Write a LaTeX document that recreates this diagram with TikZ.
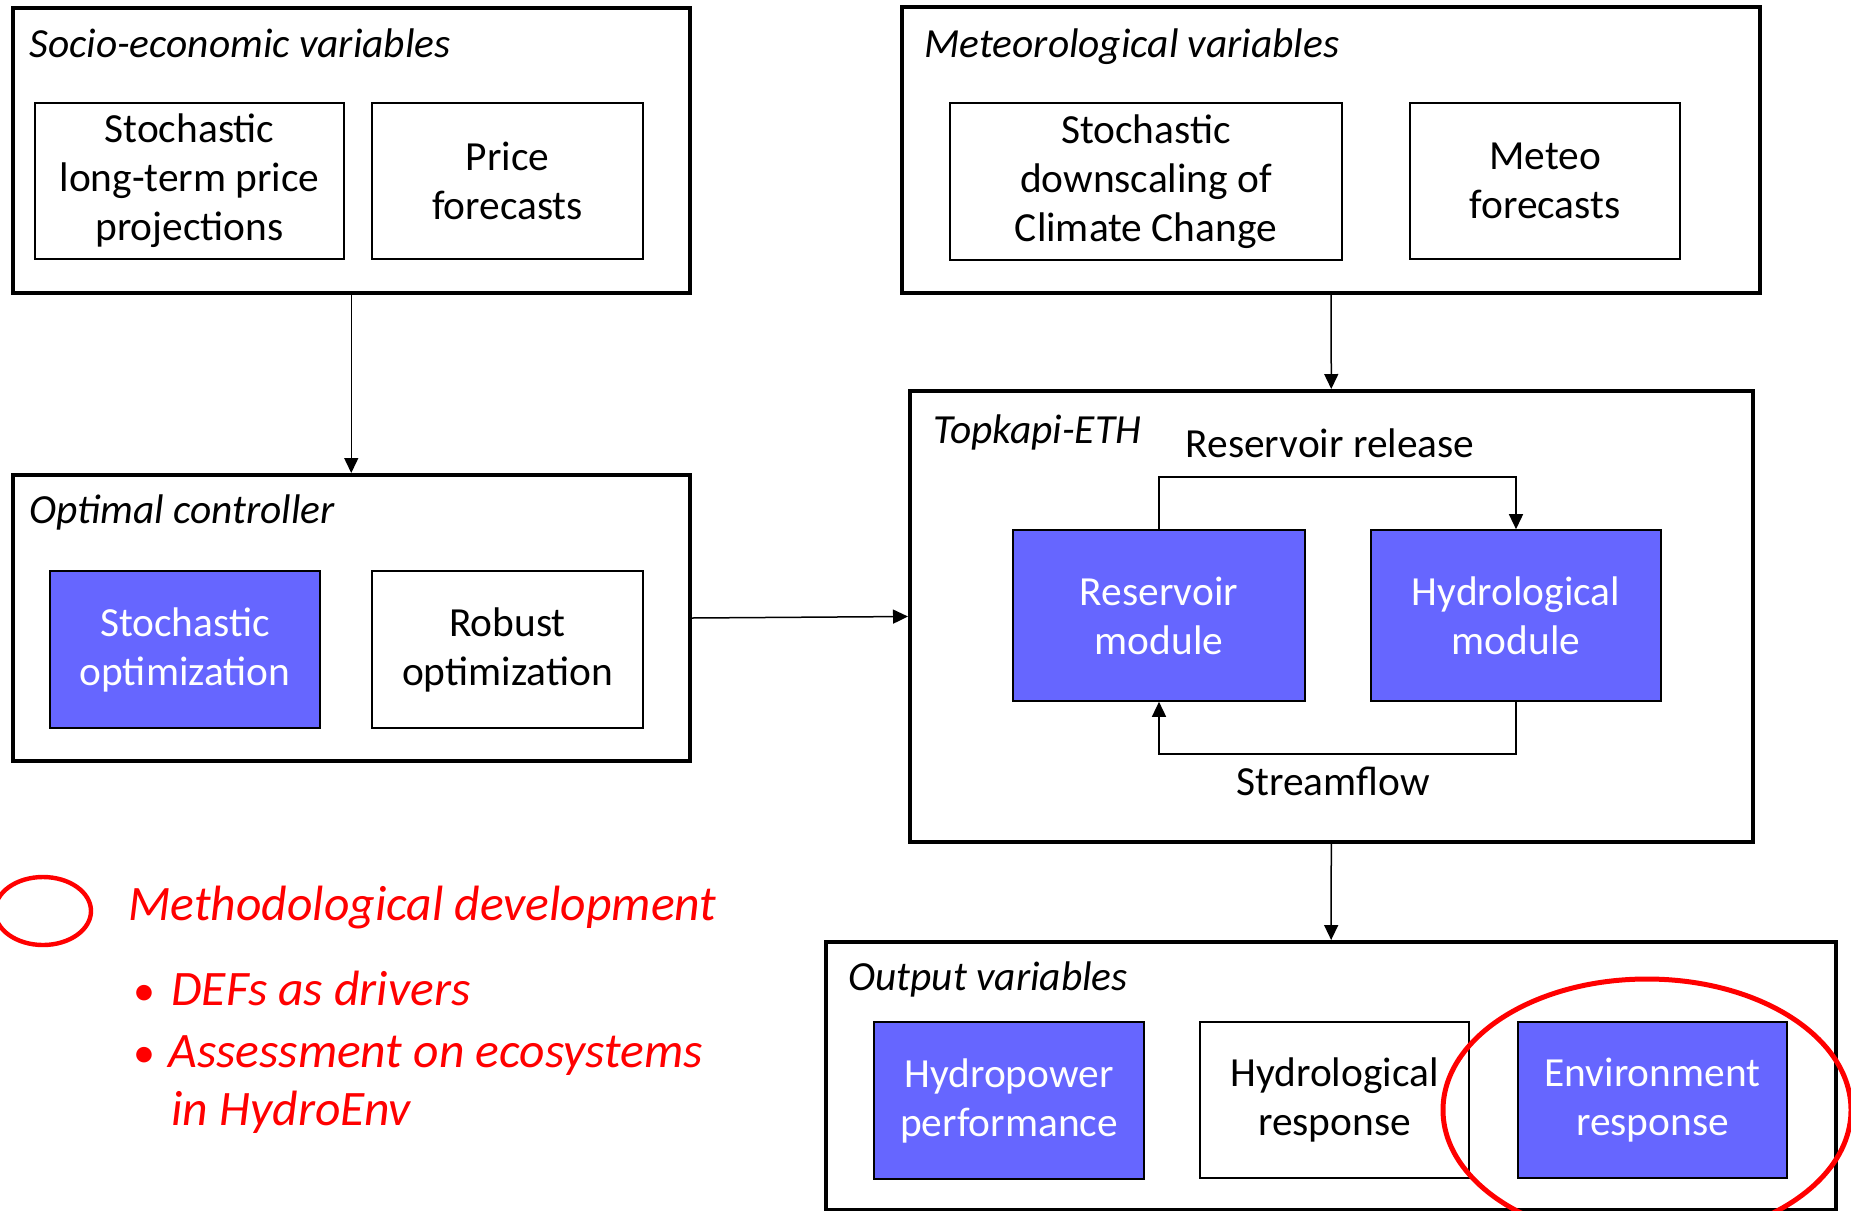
\documentclass[tikz,border=0pt]{standalone}
\usepackage{fontspec}
\setmainfont{Carlito}
\usetikzlibrary{arrows.meta,shapes.geometric}
\definecolor{modblue}{RGB}{102,102,255}
\definecolor{hlred}{RGB}{255,0,0}
\begin{document}
\begin{tikzpicture}[x=0.5pt,y=-0.5pt,
  outerbox/.style={draw, line width=2pt, rectangle, inner sep=0pt},
  innerbox/.style={draw, line width=0.8pt, rectangle, align=center, font=\fontsize{20.7}{24.5}\selectfont, inner sep=0pt},
  bluebox/.style={innerbox, fill=modblue, text=white},
  boxtitle/.style={anchor=base west, font=\fontsize{20.7}{24}\selectfont\itshape, inner sep=0pt},
  lbl/.style={anchor=base, font=\fontsize{20.7}{24}\selectfont, inner sep=0pt},
  arr/.style={line width=0.75pt, -{Triangle[length=7.5pt,width=7pt]}},
  hl/.style={draw=hlred, line width=2.5pt, ellipse, inner sep=0pt},
  redtxt/.style={anchor=base west, text=hlred, font=\fontsize{24.8}{30}\selectfont\itshape, inner sep=0pt},
]
\useasboundingbox (0,0) rectangle (1851,1210);

% Socio-economic variables
\node[outerbox, minimum width=338.75pt, minimum height=142.5pt] (socio) at (351.25,150.5) {};
\node[boxtitle] (sociot) at (29,57) {Socio-economic variables};
\node[innerbox, minimum width=154.5pt, minimum height=78pt] (slt) at (189.5,181) {Stochastic\\long-term price\\projections};
\node[innerbox, minimum width=135.5pt, minimum height=78pt] (pf) at (507.5,181) {Price\\forecasts};

% Meteorological variables
\node[outerbox, minimum width=429pt, minimum height=143pt] (met) at (1331,150) {};
\node[boxtitle] (mett) at (924,57) {Meteorological variables};
\node[innerbox, minimum width=196pt, minimum height=78.5pt] (sdcc) at (1146,181.5) {Stochastic\\downscaling of\\Climate Change};
\node[innerbox, minimum width=135pt, minimum height=78pt] (mf) at (1545,181) {Meteo\\forecasts};

% Optimal controller
\node[outerbox, minimum width=338.75pt, minimum height=143pt] (opt) at (351.25,618) {};
\node[boxtitle] (optt) at (29,523) {Optimal controller};
\node[bluebox, minimum width=135pt, minimum height=78.5pt] (so) at (185,649.5) {Stochastic\\optimization};
\node[innerbox, minimum width=135.5pt, minimum height=78.5pt] (ro) at (507.5,649.5) {Robust\\optimization};

% Topkapi-ETH
\node[outerbox, minimum width=421.5pt, minimum height=225.5pt] (topk) at (1331.5,616.5) {};
\node[boxtitle] (topkt) at (933,443) {Topkapi-ETH};
\node[bluebox, minimum width=146pt, minimum height=85.5pt] (rm) at (1159,615.5) {Reservoir\\module};
\node[bluebox, minimum width=145pt, minimum height=85.5pt] (hm) at (1516,615.5) {Hydrological\\module};
\node[lbl] (rrl) at (1330,457) {Reservoir release};
\node[lbl] (sfl) at (1333,795) {Streamflow};
\coordinate (relTop) at (1330,477);
\coordinate (sfBot) at (1330,754);
\draw[arr] (rm.north) -- (rm.north |- relTop) -| (hm.north);
\draw[arr] (hm.south) -- (hm.south |- sfBot) -| (rm.south);

% Output variables
\node[outerbox, minimum width=505pt, minimum height=134pt] (out) at (1331,1076) {};
\node[boxtitle] (outt) at (848,990) {Output variables};
\node[bluebox, minimum width=135pt, minimum height=78.5pt] (hp) at (1009,1100.5) {Hydropower\\performance};
\node[innerbox, minimum width=134.5pt, minimum height=78pt] (hr) at (1334.5,1100) {Hydrological\\response};
\node[bluebox, minimum width=134.5pt, minimum height=78pt] (er) at (1652.5,1100) {Environment\\response};
\node[hl, minimum width=204pt, minimum height=131pt] (erhl) at (1647,1110) {};

% Main connectors
\draw[arr] (socio) -- (opt);
\draw[arr] (met) -- (topk);
\draw[arr] (opt.east) -- (topk.west);
\draw[arr] (topk) -- (out);

% Legend
\node[hl, line width=2.2pt, minimum width=48pt, minimum height=34pt] (leg) at (43,911) {};
\node[redtxt] (md) at (128,920) {Methodological development};
\node[redtxt, font=\fontsize{22}{30}\selectfont] (b1) at (133,1005) {•};
\node[redtxt] (l1) at (171,1005) {DEFs as drivers};
\node[redtxt, font=\fontsize{22}{30}\selectfont] (b2) at (133,1067) {•};
\node[redtxt] (l2) at (168,1067) {Assessment on ecosystems};
\node[redtxt] (l3) at (171,1125) {in HydroEnv};
\end{tikzpicture}
\end{document}
